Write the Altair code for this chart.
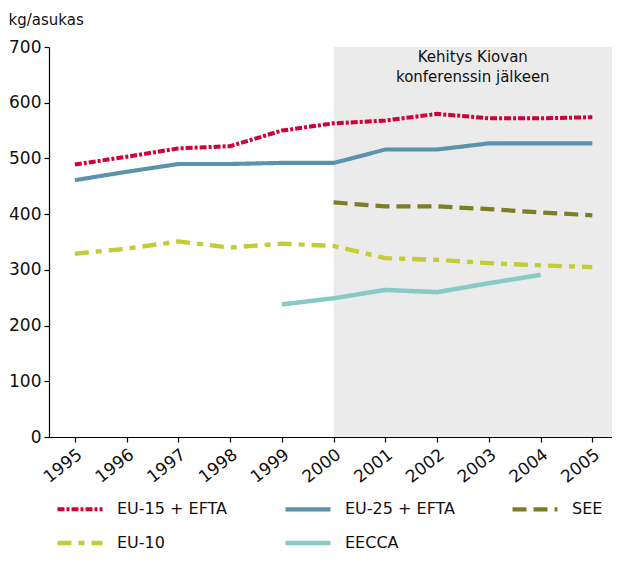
import altair as alt
import pandas as pd

years = list(range(1995, 2006))
names = ["EU-15 + EFTA", "EU-25 + EFTA", "SEE", "EU-10", "EECCA"]
eu15 = [489, 503, 518, 522, 550, 563, 568, 580, 572, 572, 574]
eu25 = [461, 476, 490, 490, 492, 492, 516, 516, 527, 527, 527]
see = [None, None, None, None, None, 421, 414, 414, 409, 403, 398]
eu10 = [329, 338, 351, 340, 347, 343, 321, 318, 312, 308, 305]
eecca = [None, None, None, None, 238, 249, 264, 260, 276, 291, None]
colors = ["#d1003d", "#5a93ab", "#7b7e24", "#c3cd33", "#88cbc6"]
dashes = [[7, 2, 3, 2], [1, 0], [14, 7], [14, 7, 6, 7], [1, 0]]
widths = [4, 4.5, 5, 5, 4]
y_ticks = [0, 100, 200, 300, 400, 500, 600, 700]

x_domain = [1994.5, 2005.38]
region_start = [2000]
region_end = [2005.38]
region_bottom = [0]
region_top = [700]
note = ["Kehitys Kiovan", "konferenssin jälkeen"]

rows = []
for name, vals in zip(names, [eu15, eu25, see, eu10, eecca]):
    for yr, v in zip(years, vals):
        if v is not None:
            rows.append({"year": yr, "value": v, "series": name})
df = pd.DataFrame(rows)

region = pd.DataFrame({"x0": region_start, "x1": region_end,
                       "y0": region_bottom, "y1": region_top})
note_df = pd.DataFrame({"tx": [(region_start[0] + region_end[0]) / 2],
                        "ty": region_top, "label": [note]})

FONT = "DejaVu Sans"
xscale = alt.Scale(domain=x_domain, nice=False, zero=False)
yscale = alt.Scale(domain=[0, 700], nice=False)

leg = alt.Legend(orient="none", legendX=6, legendY=437, columns=3,
                 direction="horizontal", title=None, symbolType="stroke",
                 symbolSize=2025, labelFontSize=16, labelFont=FONT,
                 labelColor="#111", labelOffset=12, columnPadding=48,
                 rowPadding=0, gridAlign="each")

rect = alt.Chart(region).mark_rect(color="#ebebeb").encode(
    x=alt.X("x0:Q", scale=xscale,
            axis=alt.Axis(values=years, format="d", labelAngle=-38, title=None,
                          labelFontSize=17, labelPadding=4, grid=False)),
    x2="x1:Q",
    y=alt.Y("y0:Q", scale=yscale,
            axis=alt.Axis(values=y_ticks, title="kg/asukas", titleAngle=0,
                          titleX=-41, titleY=-23, titleAlign="left",
                          titleBaseline="alphabetic", titleFontSize=15,
                          titleFontWeight="normal", titleFont=FONT,
                          labelFontSize=17, labelPadding=3, grid=False)),
    y2="y1:Q",
)

text = alt.Chart(note_df).mark_text(
    baseline="top", align="center", fontSize=15, font=FONT, color="#111",
    lineHeight=20, dy=3
).encode(x=alt.X("tx:Q", scale=xscale), y=alt.Y("ty:Q", scale=yscale),
         text="label")

lines = alt.Chart(df).mark_line(strokeCap="butt", strokeJoin="miter").encode(
    x=alt.X("year:Q", scale=xscale),
    y=alt.Y("value:Q", scale=yscale),
    color=alt.Color("series:N", scale=alt.Scale(domain=names, range=colors), legend=leg),
    strokeDash=alt.StrokeDash("series:N", scale=alt.Scale(domain=names, range=dashes), legend=leg),
    strokeWidth=alt.StrokeWidth("series:N", scale=alt.Scale(domain=names, range=widths), legend=leg),
)

chart = alt.layer(rect, text, lines).properties(
    width=563, height=390,
    autosize=alt.AutoSizeParams(type="none"),
    padding={"left": 41, "top": 39, "right": 0, "bottom": 115},
).configure_view(stroke=None).configure_axis(
    domainColor="#000", tickColor="#000", tickSize=5, domainWidth=1.2,
    tickWidth=1.2, labelColor="#111", labelFont=FONT, titleColor="#111"
)

chart.save("out.html", embed_options={"renderer": "svg", "actions": False})
